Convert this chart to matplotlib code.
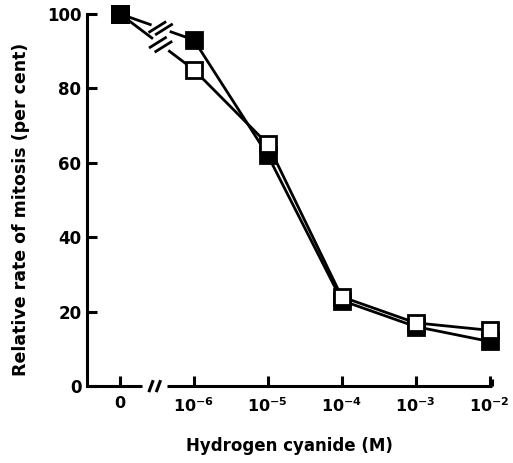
import numpy as np
import matplotlib
matplotlib.use("Agg")
import matplotlib.pyplot as plt
from matplotlib.transforms import IdentityTransform

plt.rcParams['font.family'] = ['DejaVu Sans']
plt.rcParams['font.weight'] = 'bold'
plt.rcParams['mathtext.default'] = 'regular'

categories = ["0", "$10^{-6}$", "$10^{-5}$", "$10^{-4}$", "$10^{-3}$", "$10^{-2}$"]
filled_vals = [100, 93, 62, 23, 16, 12]
open_vals = [100, 85, 65, 24, 17, 15]
yticks = [0, 20, 40, 60, 80, 100]

fig = plt.figure(figsize=(5.13, 4.63), dpi=100)
ax = fig.add_axes([0.1696, 0.166, 0.789, 0.804])
x = np.arange(len(categories))
ax.set_xlim(-0.446, 5.03)
ax.set_ylim(0, 100)

lw = 2.0
def draw_series(vals, face, z):
    # broken first segment
    p0 = ax.transData.transform((x[0], vals[0]))
    p1 = ax.transData.transform((x[1], vals[1]))
    d = p1 - p0
    L = np.hypot(*d)
    u = d / L
    c = p0 + d * 0.55
    gap = 11
    a = c - u * gap
    b = c + u * gap
    ax.plot([p0[0], a[0]], [p0[1], a[1]], color='black', lw=lw, transform=IdentityTransform(), zorder=z)
    ax.plot([b[0], p1[0]], [b[1], p1[1]], color='black', lw=lw, transform=IdentityTransform(), zorder=z)
    ang = np.deg2rad(32)
    s = np.array([np.cos(ang), np.sin(ang)])
    for off in (-3.5, 3.5):
        m = c + u * off
        q0 = m - s * 9
        q1 = m + s * 9
        ax.plot([q0[0], q1[0]], [q0[1], q1[1]], color='black', lw=lw, transform=IdentityTransform(), zorder=z)
    ax.plot(x[1:], vals[1:], color='black', lw=lw, zorder=z)
    ax.plot(x, vals, linestyle='none', marker='s', markersize=11.5, clip_on=False,
            markerfacecolor=face, markeredgecolor='black', markeredgewidth=2.0, zorder=z + 0.5)

draw_series(filled_vals, 'black', 3)
draw_series(open_vals, 'white', 4)
# filled marker on top at the control point
ax.plot(x[:1], filled_vals[:1], linestyle='none', marker='s', markersize=11.5, clip_on=False,
        markerfacecolor='black', markeredgecolor='black', markeredgewidth=2.0, zorder=6)

for sp in ['top', 'right', 'bottom']:
    ax.spines[sp].set_visible(False)
ax.spines['left'].set_linewidth(2.2)
ax.set_yticks(yticks)
ax.set_yticklabels([str(v) for v in yticks], fontsize=12, fontweight='bold')
ax.set_xticks(x)
ax.set_xticklabels(categories, fontsize=11.5, fontweight='bold')
ax.tick_params(axis='y', direction='in', length=7, width=2.2, pad=4)
ax.tick_params(axis='x', direction='in', length=7, width=2.2, pad=7)

kw = dict(color='black', lw=2.2, clip_on=False, solid_capstyle='butt', zorder=5)
ax.plot([-0.446, 0.30], [0, 0], **kw)
ax.plot([0.64, 5.03], [0, 0], **kw)
ax.plot([5.03, 5.03], [0, 1.9], **kw)
for off in (-0.05, 0.05):
    xc = 0.47 + off
    ax.plot([xc - 0.03, xc + 0.03], [-1.6, 1.6], **kw)

ax.set_ylabel("Relative rate of mitosis (per cent)", fontsize=12.5, fontweight='bold')
ax.yaxis.set_label_coords(-0.14, 0.475)
ax.set_xlabel("Hydrogen cyanide (M)", fontsize=12, fontweight='bold', labelpad=16)

fig.savefig("out.png", dpi=100)
